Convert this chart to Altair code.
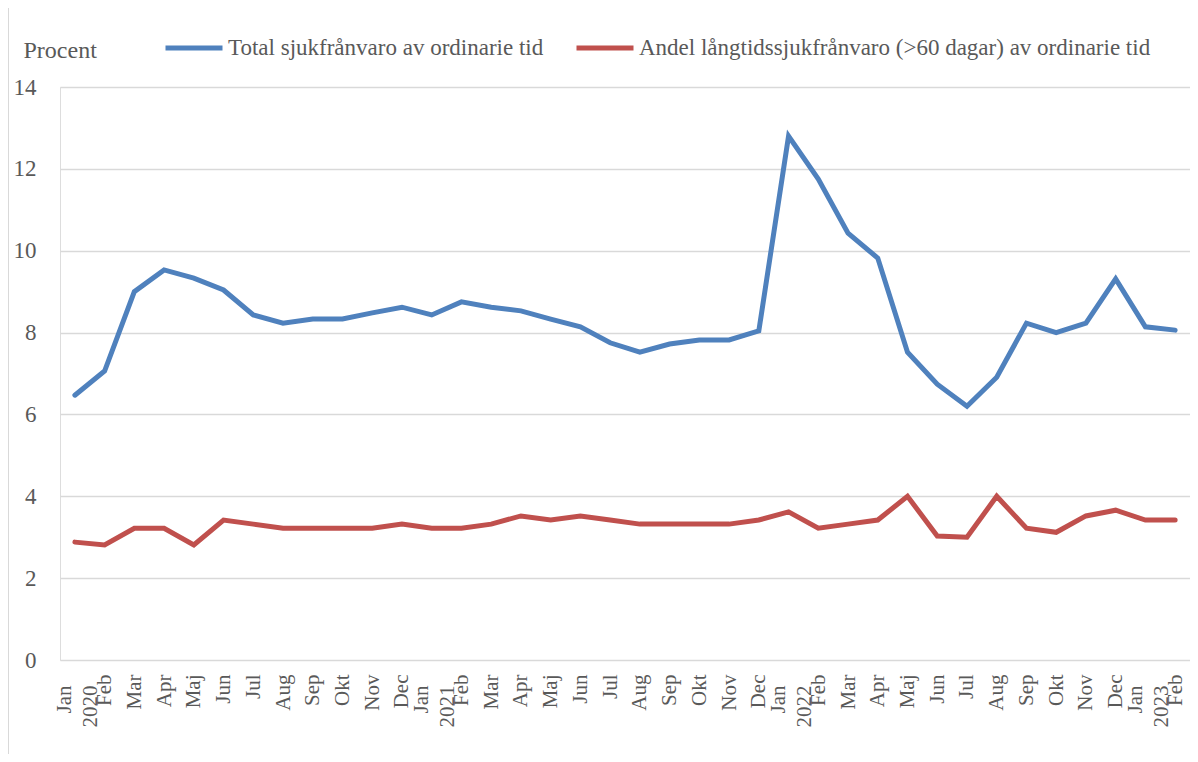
import altair as alt
import pandas as pd

months = ["Jan", "Feb", "Mar", "Apr", "Maj", "Jun", "Jul", "Aug", "Sep", "Okt", "Nov", "Dec"]
month_labels = months * 3 + months[:2]
years = [2020] * 12 + [2021] * 12 + [2022] * 12 + [2023] * 2

total = [6.47, 7.06, 9.0, 9.53, 9.33, 9.04, 8.43, 8.23, 8.33, 8.33, 8.48, 8.62,
         8.43, 8.75, 8.62, 8.53, 8.33, 8.14, 7.75, 7.52, 7.72, 7.82, 7.82, 8.04,
         12.8, 11.75, 10.43, 9.82, 7.52, 6.74, 6.2, 6.91, 8.23, 8.0, 8.23, 9.31,
         8.14, 8.06]
long_term = [2.88, 2.81, 3.22, 3.22, 2.81, 3.42, 3.32, 3.22, 3.22, 3.22, 3.22, 3.32,
             3.22, 3.22, 3.32, 3.52, 3.42, 3.52, 3.42, 3.32, 3.32, 3.32, 3.32, 3.42,
             3.62, 3.22, 3.32, 3.42, 4.0, 3.03, 3.0, 4.0, 3.22, 3.12, 3.52, 3.66,
             3.42, 3.42]

series_names = ["Total sjukfrånvaro av ordinarie tid",
                "Andel långtidssjukfrånvaro (>60 dagar) av ordinarie tid"]
series_colors = ["#4F81BD", "#C0504D"]
y_ticks = [0, 2, 4, 6, 8, 10, 12, 14]

keys = [f"{m} {y}" for m, y in zip(month_labels, years)]
rows = []
for name, vals in zip(series_names, [total, long_term]):
    for k, v in zip(keys, vals):
        rows.append({"period": k, "serie": name, "value": v})
df = pd.DataFrame(rows)

FONT = "Liberation Serif"
TXT = "#595959"
is_jan = "slice(datum.value, 0, 3) == 'Jan'"

lines = alt.Chart(df).mark_line(strokeWidth=5, strokeCap="round").encode(
    x=alt.X("period:O", sort=keys, scale=alt.Scale(padding=0.5),
            axis=alt.Axis(title=None, labelAngle=-90,
                          labelExpr=f"{is_jan} ? split(datum.value, ' ') : split(datum.value, ' ')[0]",
                          labelFont=FONT, labelFontSize=21, labelColor=TXT,
                          labelLineHeight=26, labelAlign="right", labelBaseline="middle",
                          labelPadding={"condition": {"test": is_jan, "value": 25}, "value": 14},
                          labelOffset={"condition": {"test": is_jan, "value": -10}, "value": 0},
                          labelOverlap=False, ticks=False, domain=False, grid=False)),
    y=alt.Y("value:Q", scale=alt.Scale(domain=[0, 14]),
            axis=alt.Axis(values=y_ticks, title="Procent", titleAngle=0, titleAlign="left",
                          titleBaseline="alphabetic", titleX=-37, titleY=-30,
                          titleFont=FONT, titleFontSize=24, titleFontWeight="normal",
                          titleColor=TXT, labelFont=FONT, labelFontSize=23, labelColor=TXT,
                          labelPadding=24, domain=False, ticks=False,
                          gridColor="#d9d9d9", gridWidth=1.5)),
    color=alt.Color("serie:N", sort=series_names,
                    scale=alt.Scale(domain=series_names, range=series_colors),
                    legend=alt.Legend(orient="none", legendX=103, legendY=-70,
                                      direction="horizontal", title=None,
                                      symbolType="stroke", symbolStrokeWidth=5,
                                      symbolSize=3249, labelFont=FONT, labelFontSize=23,
                                      labelColor=TXT, labelLimit=0, columnPadding=22,
                                      labelOffset=3)),
)

frame = alt.Chart(pd.DataFrame({"a": [0]})).mark_rule(color="#d9d9d9", strokeWidth=2).encode(
    x=alt.value(-52), y=alt.value(-79), y2=alt.value(667)
)

chart = alt.layer(frame, lines).properties(
    width=1130, height=573,
    padding={"left": 52, "top": 79, "right": 0, "bottom": 94},
    autosize=alt.AutoSizeParams(type="none"),
).configure_view(stroke=None).configure(background="white")

chart.save("out.html", embed_options={"renderer": "svg", "actions": False})
